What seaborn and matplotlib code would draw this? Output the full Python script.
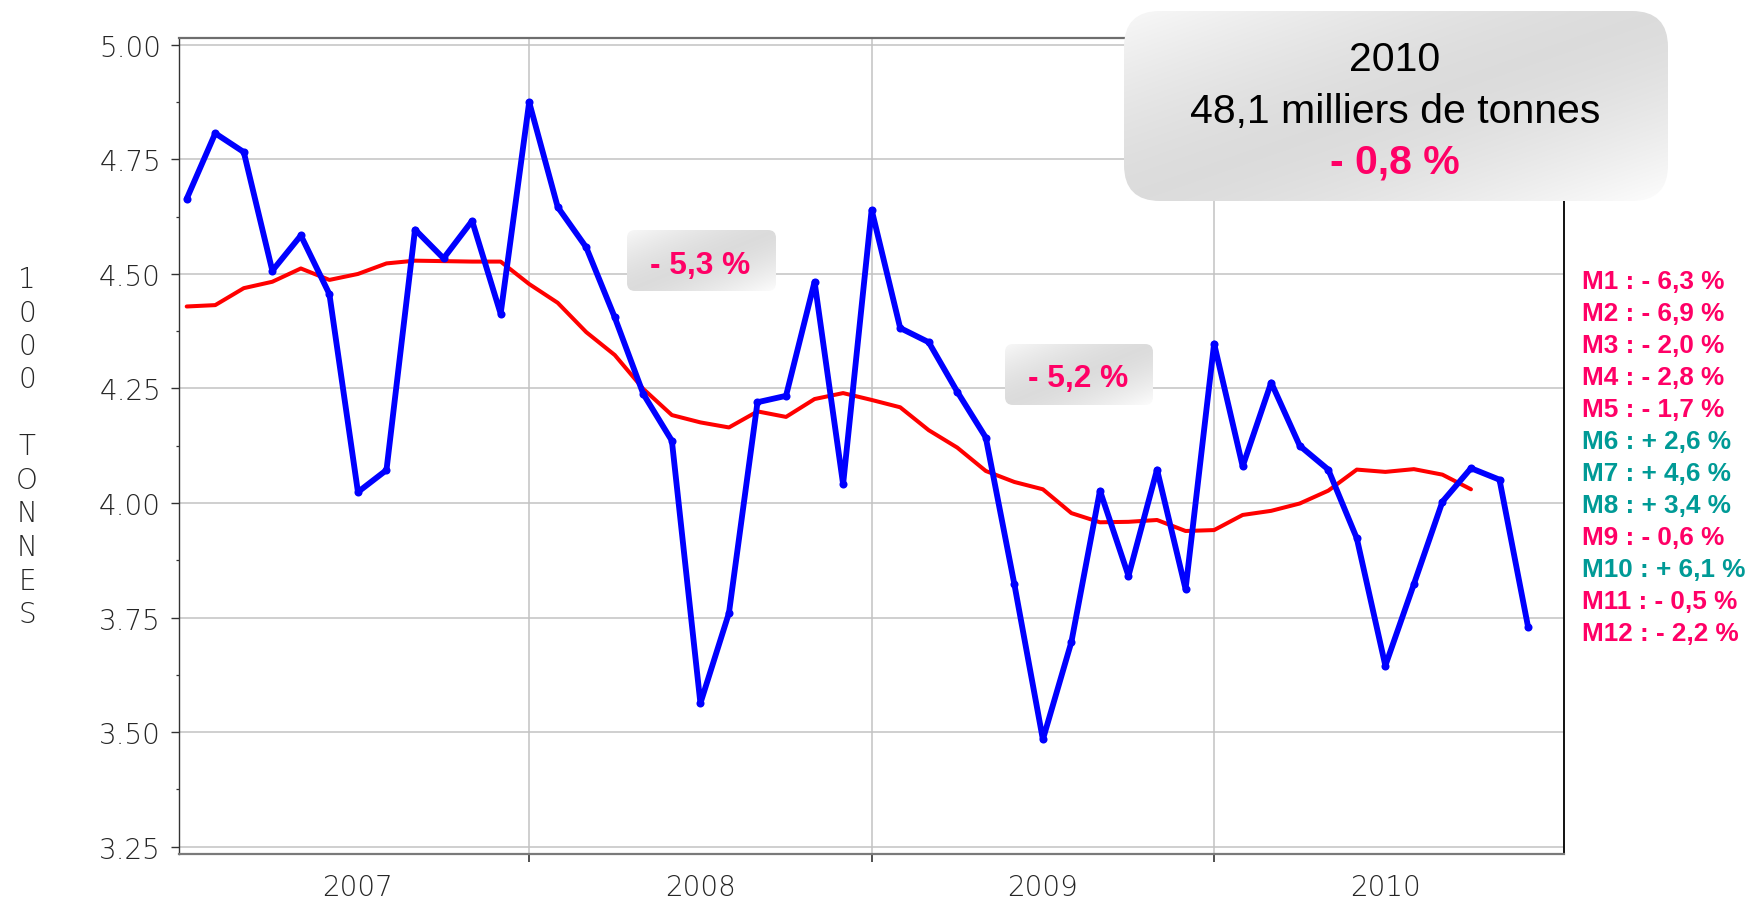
import numpy as np
import pandas as pd
import matplotlib
matplotlib.use("Agg")
import matplotlib.pyplot as plt
import seaborn as sns
from matplotlib.patches import FancyBboxPatch

# ---- data -------------------------------------------------------------
years = ["2007", "2008", "2009", "2010"]

# monthly tonnage (thousand tonnes), Jan 2007 .. Dec 2010
tonnage = [
    4.664, 4.807, 4.766, 4.507, 4.584, 4.456, 4.024, 4.072, 4.597, 4.534, 4.616, 4.413,
    4.875, 4.646, 4.558, 4.405, 4.238, 4.136, 3.563, 3.760, 4.220, 4.234, 4.483, 4.041,
    4.640, 4.382, 4.351, 4.243, 4.143, 3.823, 3.484, 3.697, 4.027, 3.841, 4.073, 3.812,
    4.348, 4.080, 4.263, 4.125, 4.073, 3.923, 3.645, 3.823, 4.003, 4.076, 4.051, 3.730,
]

# 12-month moving average (available through Oct 2010)
moving_avg = [
    4.429, 4.432, 4.469, 4.483, 4.512, 4.487, 4.500, 4.523, 4.529, 4.528, 4.527, 4.527,
    4.478, 4.437, 4.373, 4.323, 4.249, 4.192, 4.176, 4.165, 4.200, 4.188, 4.227, 4.240,
    4.225, 4.209, 4.159, 4.121, 4.070, 4.046, 4.030, 3.978, 3.958, 3.959, 3.963, 3.939,
    3.941, 3.974, 3.983, 3.999, 4.027, 4.073, 4.068, 4.074, 4.062, 4.030,
]

y_ticks = [3.25, 3.50, 3.75, 4.00, 4.25, 4.50, 4.75, 5.00]

month_changes = ["- 6,3 %", "- 6,9 %", "- 2,0 %", "- 2,8 %", "- 1,7 %", "+ 2,6 %",
                 "+ 4,6 %", "+ 3,4 %", "- 0,6 %", "+ 6,1 %", "- 0,5 %", "- 2,2 %"]

summary_year = "2010"
summary_total = "48,1 milliers de tonnes"
summary_change = "- 0,8 %"
yearly_changes = ["- 5,3 %", "- 5,2 %"]
y_axis_label = "1000 TONNES"

# ---- style ------------------------------------------------------------
PINK = "#ff0066"
TEAL = "#009a96"
BLUE = "#0000ff"
RED = "#ff0000"
AXIS_FONT = ["DejaVu Sans"]
AXIS_WEIGHT = "light"
AXIS_TEXT = "#262626"

sns.set_theme(style="white")
plt.rcParams["font.family"] = ["Liberation Sans", "DejaVu Sans"]

W, H = 1751, 903
fig = plt.figure(figsize=(W / 100, H / 100), dpi=100)
fig.patch.set_facecolor("white")

ax = fig.add_axes([179 / W, 1 - 855 / H, (1564 - 179) / W, (855 - 39) / H])

df_month = pd.DataFrame({"mois": np.arange(len(tonnage)), "tonnes": tonnage})
df_avg = pd.DataFrame({"mois": np.arange(len(moving_avg)), "tonnes": moving_avg})

sns.lineplot(data=df_avg, x="mois", y="tonnes", color=RED, lw=2.9, ax=ax, zorder=3)
sns.lineplot(data=df_month, x="mois", y="tonnes", color=BLUE, lw=4.2, marker="o",
             markersize=5.8, markeredgewidth=0, ax=ax, zorder=4)

ax.set_xlim(-0.27, 48.26)
ax.set_ylim(3.234, 5.015)
ax.set_xlabel("")
ax.set_ylabel("")

# y axis
ax.set_yticks(y_ticks)
ax.set_yticklabels([f"{v:.2f}" for v in y_ticks])
ax.set_yticks([v + 0.125 for v in y_ticks[:-1]], minor=True)
ax.tick_params(axis="y", which="major", left=True, direction="out", length=5.5,
               width=1.0, color="#333333", pad=7.5, labelsize=20, labelcolor=AXIS_TEXT)
ax.tick_params(axis="y", which="minor", left=True, direction="out", length=2.5,
               width=0.9, color="#333333")

# x axis: year boundaries as ticks, year names centred in between
ax.set_xticks([12, 24, 36])
ax.set_xticklabels(["", "", ""])
ax.set_xticks([6, 18, 30, 42], minor=True)
ax.set_xticklabels(years, minor=True)
ax.tick_params(axis="x", which="major", bottom=True, direction="out", length=5.5,
               width=1.2, color="#333333")
ax.tick_params(axis="x", which="minor", bottom=True, length=0, pad=14,
               labelsize=20, labelcolor=AXIS_TEXT)

for lab in ax.get_yticklabels() + ax.get_xticklabels(minor=True):
    lab.set_fontfamily(AXIS_FONT)
    lab.set_fontweight(AXIS_WEIGHT)

ax.grid(True, which="major", color="#c2c2c2", lw=1.1)
ax.grid(False, which="minor")
ax.set_axisbelow(True)

for side, col, lw in [("top", "#6e6e6e", 1.6), ("bottom", "#7a7a7a", 1.6),
                      ("left", "#333333", 1.0), ("right", "#111111", 1.4)]:
    ax.spines[side].set_visible(True)
    ax.spines[side].set_color(col)
    ax.spines[side].set_linewidth(lw)

# vertical stacked axis title
unit, word = y_axis_label.split()
letters = list(unit) + [""] + list(word)
for i, ch in enumerate(letters):
    if ch:
        fig.text(27 / W, 1 - (280 + 33.5 * i) / H, ch, ha="center", va="center",
                 fontsize=20, color=AXIS_TEXT, family=AXIS_FONT, fontweight=AXIS_WEIGHT)

# ---- overlay for annotation boxes (pixel coordinates) -----------------
ov = fig.add_axes([0, 0, 1, 1], zorder=10)
ov.set_xlim(0, W)
ov.set_ylim(H, 0)
ov.axis("off")
ov.patch.set_alpha(0)


def gradient_box(x0, y0, x1, y1, r):
    patch = FancyBboxPatch((x0, y0), x1 - x0, y1 - y0,
                           boxstyle=f"round,pad=0,rounding_size={r}",
                           fc="none", ec="none", transform=ov.transData)
    ov.add_patch(patch)
    u = np.linspace(0, 1, 400)[None, :]
    v = np.linspace(0, 1, 160)[:, None]
    t = (u + v) / 2
    d = np.abs(2 * t - 1)
    shade = np.where(t < 0.5, 0.862 + 0.11 * d ** 1.5, 0.862 + 0.13 * d ** 1.5)
    img = np.dstack([shade, shade, shade])
    im = ov.imshow(img, extent=[x0, x1, y1, y0], aspect="auto",
                   interpolation="bilinear", zorder=1)
    im.set_clip_path(patch)


gradient_box(1124, 12, 1668, 202, 36)
gradient_box(627, 231, 776, 292, 8)
gradient_box(1005, 345, 1153, 406, 8)

ov.set_xlim(0, W)
ov.set_ylim(H, 0)

ov.text(1395, 70.7, summary_year, ha="center", va="baseline", fontsize=29.5,
        color="black", zorder=5)
ov.text(1395, 123.3, summary_total, ha="center", va="baseline", fontsize=29.5,
        color="black", zorder=5)
ov.text(1395, 173.5, summary_change, ha="center", va="baseline", fontsize=29.5,
        color=PINK, fontweight="bold", zorder=5)

ov.text(700.5, 274.3, yearly_changes[0], ha="center", va="baseline", fontsize=22.8,
        color=PINK, fontweight="bold", zorder=5)
ov.text(1078.5, 387.3, yearly_changes[1], ha="center", va="baseline", fontsize=22.8,
        color=PINK, fontweight="bold", zorder=5)

for k, txt in enumerate(month_changes):
    col = TEAL if txt.startswith("+") else PINK
    ov.text(1581.5, 289.3 + 32.0 * k, f"M{k + 1} : {txt}", ha="left", va="baseline",
            fontsize=18.8, color=col, fontweight="bold", zorder=5)

fig.savefig("out.png", dpi=100)
